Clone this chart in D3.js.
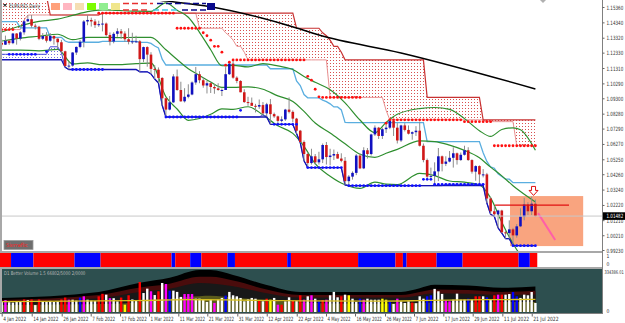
<!DOCTYPE html>
<html><head><meta charset="utf-8">
<script src="https://cdn.jsdelivr.net/npm/d3@7/dist/d3.min.js"></script>
<style>html,body{margin:0;padding:0;background:#fff;overflow:hidden}text{font-family:"DejaVu Sans Condensed","DejaVu Sans",Arial,sans-serif}</style>
</head><body>
<svg id="chart" width="625" height="323"></svg>
<script>
// ================= DATA =================
const opens=[1.1298,1.1286,1.1312,1.1296,1.1360,1.1326,1.1368,1.1441,1.1455,1.1412,
1.1405,1.1325,1.1343,1.1312,1.1344,1.1326,1.1302,1.1242,1.1144,1.1147,
1.1234,1.1271,1.1305,1.1440,1.1450,1.1440,1.1416,1.1422,1.1426,1.1350,
1.1307,1.1358,1.1375,1.1360,1.1322,1.1306,1.1308,1.1308,1.1190,1.1270,
1.1220,1.1125,1.1120,1.1065,1.0930,1.0855,1.0903,1.1075,1.0985,1.0910,
1.0940,1.0955,1.1035,1.1090,1.1050,1.1015,1.1030,1.1005,1.0996,1.0985,
1.0985,1.1090,1.1160,1.1067,1.1045,1.0970,1.0905,1.0900,1.0880,1.0875,
1.0885,1.0830,1.0890,1.0825,1.0810,1.0780,1.0790,1.0855,1.0840,1.0795,
1.0715,1.0640,1.0560,1.0500,1.0545,1.0505,1.0525,1.0620,1.0540,1.0550,
1.0560,1.0530,1.0515,1.0380,1.0410,1.0435,1.0550,1.0465,1.0585,1.0560,
1.0690,1.0735,1.0680,1.0725,1.0735,1.0780,1.0735,1.0650,1.0750,1.0720,
1.0695,1.0705,1.0715,1.0615,1.0520,1.0410,1.0415,1.0445,1.0545,1.0495,
1.0510,1.0535,1.0565,1.0520,1.0555,1.0585,1.0520,1.0443,1.0480,1.0425,
1.0425,1.0265,1.0180,1.0160,1.0185,1.0040,1.0035,1.0060,1.0020,1.0080,
1.0145,1.0225,1.0180,1.0230];
const highs=[1.1322,1.1346,1.1319,1.1364,1.1363,1.1375,1.1449,1.1482,1.1483,1.1425,
1.1411,1.1363,1.1369,1.1363,1.1346,1.1328,1.1318,1.1246,1.1174,1.1236,
1.1274,1.1318,1.1449,1.1483,1.1465,1.1455,1.1445,1.1495,1.1433,1.1367,
1.1369,1.1395,1.1390,1.1375,1.1395,1.1365,1.1345,1.1316,1.1273,1.1275,
1.1236,1.1150,1.1135,1.1070,1.0935,1.0945,1.1090,1.1121,1.1040,1.0997,
1.1023,1.1042,1.1138,1.1110,1.1069,1.1045,1.1040,1.1025,1.1030,1.0995,
1.1137,1.1170,1.1185,1.1076,1.1050,1.0990,1.0940,1.0935,1.0893,1.0922,
1.0905,1.0900,1.0925,1.0835,1.0815,1.0810,1.0860,1.0936,1.0850,1.0800,
1.0720,1.0650,1.0570,1.0595,1.0560,1.0575,1.0630,1.0640,1.0595,1.0590,
1.0575,1.0565,1.0540,1.0420,1.0445,1.0560,1.0565,1.0605,1.0600,1.0695,
1.0750,1.0740,1.0735,1.0765,1.0787,1.0780,1.0765,1.0755,1.0765,1.0750,
1.0710,1.0745,1.0775,1.0630,1.0530,1.0470,1.0505,1.0600,1.0550,1.0545,
1.0580,1.0605,1.0570,1.0570,1.0615,1.0605,1.0525,1.0485,1.0485,1.0460,
1.0435,1.0275,1.0215,1.0190,1.0190,1.0050,1.0120,1.0070,1.0095,1.0200,
1.0270,1.0240,1.0278,1.0258];
const lows=[1.1272,1.1284,1.1285,1.1289,1.1286,1.1314,1.1352,1.1437,1.1399,1.1387,
1.1316,1.1317,1.1300,1.1305,1.1286,1.1264,1.1232,1.1136,1.1121,1.1140,
1.1218,1.1262,1.1268,1.1415,1.1406,1.1397,1.1404,1.1374,1.1340,1.1281,
1.1295,1.1338,1.1324,1.1305,1.1288,1.1290,1.1300,1.1106,1.1170,1.1140,
1.1092,1.1058,1.1032,1.0884,1.0806,1.0850,1.0900,1.0980,1.0907,1.0902,
1.0930,1.0950,1.1020,1.1030,1.1000,1.0962,1.0965,1.0960,1.0980,1.0945,
1.0985,1.1085,1.1060,1.1030,1.0970,1.0900,1.0880,1.0880,1.0836,1.0860,
1.0820,1.0810,1.0757,1.0800,1.0760,1.0770,1.0780,1.0830,1.0770,1.0696,
1.0635,1.0515,1.0470,1.0490,1.0490,1.0490,1.0500,1.0490,1.0485,1.0520,
1.0530,1.0505,1.0355,1.0350,1.0390,1.0420,1.0460,1.0460,1.0530,1.0550,
1.0680,1.0660,1.0660,1.0700,1.0725,1.0680,1.0630,1.0640,1.0710,1.0690,
1.0655,1.0680,1.0610,1.0505,1.0395,1.0395,1.0359,1.0380,1.0445,1.0480,
1.0505,1.0470,1.0490,1.0515,1.0550,1.0515,1.0430,1.0383,1.0365,1.0405,
1.0235,1.0160,1.0145,1.0070,1.0035,0.9998,0.9998,0.9952,1.0005,1.0075,
1.0120,1.0155,1.0155,1.0145];
const closes=[1.1286,1.1312,1.1296,1.1360,1.1326,1.1368,1.1441,1.1455,1.1412,1.1405,
1.1325,1.1343,1.1312,1.1344,1.1326,1.1302,1.1242,1.1144,1.1147,1.1234,
1.1271,1.1305,1.1440,1.1450,1.1440,1.1416,1.1422,1.1426,1.1350,1.1307,
1.1358,1.1375,1.1360,1.1322,1.1306,1.1308,1.1308,1.1190,1.1270,1.1220,
1.1125,1.1120,1.1065,1.0930,1.0855,1.0903,1.1075,1.0985,1.0910,1.0940,
1.0955,1.1035,1.1090,1.1050,1.1015,1.1030,1.1005,1.0996,1.0985,1.0985,
1.1090,1.1160,1.1067,1.1045,1.0970,1.0905,1.0900,1.0880,1.0875,1.0885,
1.0830,1.0890,1.0825,1.0810,1.0780,1.0790,1.0855,1.0840,1.0795,1.0715,
1.0640,1.0560,1.0500,1.0545,1.0505,1.0525,1.0620,1.0540,1.0550,1.0560,
1.0530,1.0515,1.0380,1.0410,1.0435,1.0550,1.0465,1.0585,1.0560,1.0690,
1.0735,1.0680,1.0725,1.0735,1.0780,1.0735,1.0650,1.0750,1.0720,1.0695,
1.0705,1.0715,1.0615,1.0520,1.0410,1.0415,1.0445,1.0545,1.0495,1.0510,
1.0535,1.0565,1.0520,1.0555,1.0585,1.0520,1.0443,1.0480,1.0425,1.0425,
1.0265,1.0180,1.0160,1.0185,1.0040,1.0035,1.0060,1.0020,1.0080,1.0145,
1.0225,1.0180,1.0230,1.0148];

// date labels sit on MetaTrader's pixel grid (positions expressed in bar units)
const dateTickBars=[0,8.04,16.08,23.85,31.7,39.47,47.32,55.09,63.13,71.01,79.05,86.9,94.67,102.71,110.48,118.33,126.2,134.14,142.02];
const dateTickLabels=["4 Jan 2022","14 Jan 2022","26 Jan 2022","7 Feb 2022","17 Feb 2022","1 Mar 2022","11 Mar 2022","21 Mar 2022","31 Mar 2022","12 Apr 2022","22 Apr 2022","4 May 2022","16 May 2022","26 May 2022","7 Jun 2022","17 Jun 2022","29 Jun 2022","11 Jul 2022","21 Jul 2022"];
const priceTicks=[1.15360,1.14340,1.13320,1.12330,1.11310,1.10290,1.09300,1.08280,1.07290,1.06270,1.05250,1.04260,1.03240,1.02220,1.01210,1.00210,0.99230];
const lastPrice=1.01482;

// step channels: [fromBar, toBar, price]
const high52=[[0,4,1.1692],[5,12,1.1610],[13,26,1.1483],[27,78,1.1495],[79,85,1.1395],[86,86,1.1365],[87,87,1.1345],[88,88,1.1316],[89,90,1.1275],[91,91,1.1236],[92,113,1.1185],[114,128,1.0936],[129,143,1.0787]];
const high26=[[0,5,1.1386],[6,6,1.1449],[7,7,1.1482],[8,26,1.1483],[27,52,1.1495],[53,59,1.1395],[60,60,1.1365],[61,61,1.1345],[62,62,1.1316],[63,64,1.1275],[65,65,1.1236],[66,87,1.1185],[88,102,1.0936],[103,103,1.0850],[104,129,1.0787],[130,137,1.0775],[138,143,1.0615]];
const low52=[[0,16,1.1186],[17,17,1.1136],[18,36,1.1121],[37,39,1.1106],[40,40,1.1092],[41,41,1.1058],[42,42,1.1032],[43,43,1.0884],[44,71,1.0806],[72,78,1.0757],[79,79,1.0696],[80,80,1.0635],[81,81,1.0515],[82,91,1.0470],[92,92,1.0355],[93,129,1.0350],[130,130,1.0235],[131,131,1.0160],[132,132,1.0145],[133,133,1.0070],[134,134,1.0035],[135,136,0.9998],[137,143,0.9952]];
const low26=[[0,12,1.1222],[13,15,1.1272],[16,16,1.1232],[17,17,1.1136],[18,36,1.1121],[37,39,1.1106],[40,40,1.1092],[41,41,1.1058],[42,42,1.1032],[43,43,1.0884],[44,69,1.0806],[70,70,1.0820],[71,71,1.0810],[72,78,1.0757],[79,79,1.0696],[80,80,1.0635],[81,81,1.0515],[82,91,1.0470],[92,92,1.0355],[93,118,1.0350],[119,129,1.0359],[130,130,1.0235],[131,131,1.0160],[132,132,1.0145],[133,133,1.0070],[134,134,1.0035],[135,136,0.9998],[137,143,0.9952]];
const mid52=[[0,4,1.1439],[5,12,1.1398],[13,16,1.1335],[17,17,1.1310],[18,26,1.1302],[27,36,1.1308],[37,39,1.1301],[40,40,1.1294],[41,41,1.1277],[42,42,1.1264],[43,43,1.1190],[44,71,1.1151],[72,78,1.1126],[79,79,1.1046],[80,80,1.1015],[81,81,1.0955],[82,85,1.0933],[86,86,1.0918],[87,87,1.0908],[88,88,1.0893],[89,90,1.0873],[91,91,1.0853],[92,92,1.0770],[93,113,1.0768],[114,128,1.0643],[129,129,1.0569],[130,130,1.0511],[131,131,1.0474],[132,132,1.0466],[133,133,1.0429],[134,134,1.0411],[135,136,1.0393],[137,143,1.0370]];
const redDots=[[0,3,1.1386],[26,46,1.1495],[47,53,1.1395],[54,54,1.1365],[55,55,1.1345],[56,56,1.1316],[57,58,1.1275],[59,59,1.1236],[60,60,1.1150],[61,61,1.1170],[62,81,1.1185],[82,82,1.1076],[83,83,1.1050],[84,84,1.0990],[85,85,1.0940],[86,96,1.0936],[103,103,1.0765],[104,123,1.0787],[124,131,1.0775],[132,143,1.0615]];
const blueDots=[[2,9,1.1222],[12,12,1.1240],[19,27,1.1121],[44,63,1.0806],[64,64,1.0850],[73,79,1.0757],[82,91,1.0470],[93,112,1.0350],[113,115,1.0392],[116,129,1.0359],[137,143,0.9952]];

// Bollinger bands: [bar, upper, middle, lower]
const bbPoints=[[0,1.1370,1.1310,1.1250],[5,1.1410,1.1330,1.1250],[10,1.1440,1.1342,1.1245],[15,1.1455,1.1355,1.1255],[19,1.1480,1.1319,1.1158],[23,1.1505,1.1335,1.1165],[27,1.1517,1.1335,1.1153],[31,1.1513,1.1333,1.1153],[36,1.1508,1.1334,1.1160],[40,1.1507,1.1335,1.1163],[44,1.1564,1.1252,1.0940],[47,1.1515,1.1187,1.0859],[50,1.1468,1.1126,1.0784],[53,1.1368,1.1082,1.0796],[56,1.1252,1.1038,1.0824],[59,1.1146,1.1003,1.0860],[62,1.1149,1.1003,1.0857],[66,1.1138,1.1006,1.0874],[70,1.1160,1.0990,1.0820],[74,1.1145,1.0946,1.0747],[78,1.1121,1.0909,1.0697],[81,1.1075,1.0843,1.0611],[84,1.1036,1.0766,1.0496],[88,1.0987,1.0700,1.0413],[92,1.0900,1.0628,1.0356],[96,1.0786,1.0559,1.0332],[100,1.0702,1.0538,1.0374],[103,1.0770,1.0565,1.0360],[106,1.0824,1.0591,1.0357],[112,1.0862,1.0647,1.0432],[116,1.0869,1.0643,1.0417],[120,1.0857,1.0619,1.0381],[124,1.0795,1.0584,1.0373],[128,1.0715,1.0535,1.0355],[131,1.0677,1.0473,1.0269],[134,1.0723,1.0415,1.0107],[137,1.0734,1.0350,0.9966],[139,1.0721,1.0311,0.9901],[143,1.0585,1.0242,0.9899]];
// long moving average (black)
const maLong=[[0,1.1720],[42,1.1582],[56,1.1538],[79,1.1397],[85,1.1350],[107,1.1231],[143,1.0992]];

// sub-window trend strip
const stripSegs=[[0,2,"R"],[3,8,"B"],[9,19,"R"],[20,26,"B"],[27,45,"R"],[46,46,"B"],[47,50,"R"],[51,53,"B"],[54,60,"R"],[61,62,"B"],[63,76,"R"],[77,77,"B"],[78,95,"R"],[96,105,"B"],[106,107,"R"],[108,108,"B"],[109,116,"R"],[117,123,"B"],[124,138,"R"],[139,141,"B"],[142,143,"R"]];

// volume (thousand ticks) and Better-Volume colour per bar
const volumesK=[80,95,78,75,80,85,100,95,100,55,100,85,82,88,80,85,100,115,98,98,
90,115,125,98,90,88,125,145,138,110,110,85,115,58,133,100,95,239,151,186,
165,135,165,231,223,170,170,160,120,143,143,143,106,106,98,80,98,72,98,112,
130,160,133,125,112,85,100,112,106,93,85,106,98,112,58,58,85,117,90,90,
133,98,125,133,106,85,95,98,133,160,117,125,138,133,106,80,106,98,106,98,
98,98,106,98,80,64,106,85,72,85,75,70,125,106,125,133,184,165,144,90,
85,98,146,98,98,106,98,125,125,125,117,98,133,138,138,138,143,159,125,112,
138,133,159,72];
const volColors="WMWWWWRWRWRWWWWWRRMWWBMWWWRRWMWWRYRWWRWWMWRWMBWWWMMMWWWWWMWWBWWWWWWWWRWRYWMRWWRWRMWMWBRMWWWRWYWWBMWWWWYYBWMWWWRWWWBBWWWMMWWWWBWRRWBWRMRWWBBWW".split("");
const volPalette={W:"#ffffff",R:"#ff0000",M:"#ff00ff",B:"#0000ff",Y:"#ffff00",K:"#000000"};
const volBlack=[[0,112],[26,160],[37,232],[45,272],[53,334],[56,334],[62,295],[71,215],[80,159],[107,160],[112,190],[116,216],[125,211],[134,193],[143,204]];
const volMaroon=[[0,95],[26,135],[37,195],[45,225],[53,280],[56,280],[62,250],[71,180],[80,135],[107,135],[112,160],[116,180],[125,175],[134,160],[143,170]];
const volDark=[[0,80],[26,110],[37,160],[45,185],[53,230],[62,205],[71,150],[80,115],[107,115],[116,150],[125,145],[134,135],[143,140]];
const volOlive=[[0,55],[30,65],[40,90],[50,120],[56,130],[62,115],[71,95],[80,75],[95,65],[107,70],[120,75],[143,80]];
const volAvg=[[0,82],[35,90],[50,98],[60,96],[80,88],[100,86],[115,92],[130,98],[143,100]];
const volMaxLabel="334386.01";

// chart objects (bar index, price)
const boxObj={from:136.2,to:155.8,top:1.0281,bottom:0.9949};
const hLineObj={from:132.2,to:152,price:1.0221};
const pinkLineObj=[[143.7,1.0168],[148.3,0.9989]];
const arrowObj={bar:142.5,price:1.0345};
const legendSwatches=["#ffa07a","#ffb6c1","#f5deb3","#7cfc00","#90ee90","#f0e68c"];

// ================= DRAW =================
const svg=d3.select("#chart");
const x=d3.scaleLinear().domain([0,143]).range([1.7,535.4]);
const y=d3.scaleLinear().domain([0.99230,1.15360]).range([250,7]);
const vy=d3.scaleLinear().domain([0,334.38601]).range([312,270]);
const expand=segs=>{const p=[];segs.forEach(([a,b,v])=>{for(let i=a;i<=b;i++)p.push([i,v]);});return p;};
const FS=5.8;
// horizontally squeeze a text so that its real width is chars*perChar
function squeeze(sel,perChar){
  sel.each(function(){
    const t=d3.select(this);
    const n=this.getComputedTextLength();
    const want=this.textContent.length*perChar;
    const sx=Math.min(1,want/n);
    const xx=+t.attr("x")||0, yy=+t.attr("y")||0;
    t.attr("x",0).attr("y",0).attr("transform",`translate(${xx},${yy}) scale(${sx.toFixed(3)},1)`);
  });
}

const defs=svg.append("defs");
defs.append("clipPath").attr("id","mainClip").append("rect").attr("x",2).attr("y",1).attr("width",600).attr("height",250);
defs.append("clipPath").attr("id","volClip").append("rect").attr("x",2).attr("y",269).attr("width",600).attr("height",44);
const pr=defs.append("pattern").attr("id","redHatch").attr("patternUnits","userSpaceOnUse").attr("width",3).attr("height",3);
pr.append("rect").attr("width",1).attr("height",1).attr("fill","#d85050");
const pb=defs.append("pattern").attr("id","blueHatch").attr("patternUnits","userSpaceOnUse").attr("width",3).attr("height",3);
pb.append("rect").attr("width",1).attr("height",1).attr("fill","#7070e0");

svg.append("rect").attr("width",625).attr("height",323).attr("fill","#fff");

// ---------- main panel ----------
const main=svg.append("g").attr("clip-path","url(#mainClip)");
main.append("rect").attr("x",x(boxObj.from)).attr("y",y(boxObj.top)).attr("width",x(boxObj.to)-x(boxObj.from)).attr("height",y(boxObj.bottom)-y(boxObj.top)).attr("fill","#f9a47f");

const h52=expand(high52), h26=expand(high26), l52=expand(low52), l26=expand(low26);
const cloudR=h52.map((d,i)=>[d[0],d[1],h26[i][1]]);
const cloudB=l26.map((d,i)=>[d[0],d[1],l52[i][1]]);
const areaG=d3.area().x(d=>x(d[0])).y0(d=>y(d[2])).y1(d=>y(d[1]));
main.append("path").attr("d",areaG(cloudR)).attr("fill","url(#redHatch)");
main.append("path").attr("d",areaG(cloudB)).attr("fill","url(#blueHatch)");
const lineP=d3.line().x(d=>x(d[0])).y(d=>y(d[1]));
main.append("path").attr("d",lineP(h26)).attr("fill","none").attr("stroke","#e89090").attr("stroke-width",1);
main.append("path").attr("d",lineP(h52)).attr("fill","none").attr("stroke","#c83232").attr("stroke-width",1.2);

const lineC=d3.line().x(d=>x(d[0])).y(d=>y(d[1])).curve(d3.curveMonotoneX);
main.append("path").attr("d",lineC(maLong)).attr("fill","none").attr("stroke","#000").attr("stroke-width",1.5);
main.append("path").attr("d",lineP(expand(mid52))).attr("fill","none").attr("stroke","#5aaee0").attr("stroke-width",1.3);
[1,2,3].forEach(k=>{
  main.append("path").attr("d",d3.line().x(d=>x(d[0])).y(d=>y(d[k])).curve(d3.curveMonotoneX)(bbPoints)).attr("fill","none").attr("stroke","#2f8f2f").attr("stroke-width",1.2);
});
main.append("path").attr("d",lineP(l26)).attr("fill","none").attr("stroke","#4848d8").attr("stroke-width",1);
main.append("path").attr("d",lineP(l52)).attr("fill","none").attr("stroke","#1414b4").attr("stroke-width",1.3);

// candles
const bars=d3.range(closes.length);
const cg=main.append("g");
cg.selectAll("line").data(bars).join("line").attr("x1",i=>x(i)).attr("x2",i=>x(i)).attr("y1",i=>y(highs[i])).attr("y2",i=>y(lows[i])).attr("stroke","#8c8c8c").attr("stroke-width",1);
cg.selectAll("rect").data(bars).join("rect")
  .attr("x",i=>x(i)-1.3).attr("width",2.6)
  .attr("y",i=>y(Math.max(opens[i],closes[i])))
  .attr("height",i=>Math.max(1,Math.abs(y(opens[i])-y(closes[i]))))
  .attr("fill",i=>closes[i]>=opens[i]?"#1010c0":"#d01818");

// dots
main.append("g").selectAll("circle").data(expand(redDots)).join("circle").attr("cx",d=>x(d[0])).attr("cy",d=>y(d[1])).attr("r",1.4).attr("fill","#ff1010");
main.append("g").selectAll("circle").data(expand(blueDots)).join("circle").attr("cx",d=>x(d[0])).attr("cy",d=>y(d[1])).attr("r",1.4).attr("fill","#1010ff");

// objects
main.append("line").attr("x1",x(hLineObj.from)).attr("x2",x(hLineObj.to)).attr("y1",y(hLineObj.price)).attr("y2",y(hLineObj.price)).attr("stroke","#e01010").attr("stroke-width",1.2);
main.append("line").attr("x1",x(pinkLineObj[0][0])).attr("y1",y(pinkLineObj[0][1])).attr("x2",x(pinkLineObj[1][0])).attr("y2",y(pinkLineObj[1][1])).attr("stroke","#ff5fa8").attr("stroke-width",2);
{const ax=x(arrowObj.bar), ay=y(arrowObj.price);
 main.append("path").attr("d",`M${ax-2},${ay} L${ax+2},${ay} L${ax+2},${ay+4} L${ax+4.5},${ay+4} L${ax},${ay+9} L${ax-4.5},${ay+4} L${ax-2},${ay+4} Z`).attr("fill","#fff").attr("stroke","#e01010").attr("stroke-width",1);}
svg.append("line").attr("x1",2).attr("x2",602).attr("y1",y(lastPrice)).attr("y2",y(lastPrice)).attr("stroke","#c8c8c8").attr("stroke-width",1);

// top-left legend
svg.append("path").attr("d","M3,4 L7,4 L5,7 Z").attr("fill","#333");
squeeze(svg.append("text").attr("x",9).attr("y",8).attr("font-size",FS).attr("fill","#444").text("EURUSD,Daily"),2.6);
legendSwatches.forEach((c,i)=>svg.append("rect").attr("x",51+i*12).attr("y",3).attr("width",9).attr("height",7).attr("fill",c));
svg.append("line").attr("x1",123).attr("x2",153).attr("y1",3.5).attr("y2",3.5).attr("stroke","#e83030").attr("stroke-width",1.5).attr("stroke-dasharray","6,3");
svg.append("line").attr("x1",157).attr("x2",206).attr("y1",3.5).attr("y2",3.5).attr("stroke","#0a0a8c").attr("stroke-width",1.5).attr("stroke-dasharray","6,3");
svg.append("line").attr("x1",123).attr("x2",150).attr("y1",10).attr("y2",10).attr("stroke","#e83030").attr("stroke-width",1.5).attr("stroke-dasharray","6,3");
svg.append("line").attr("x1",153).attr("x2",180).attr("y1",10).attr("y2",10).attr("stroke","#40c8e8").attr("stroke-width",1.5).attr("stroke-dasharray","6,3");
svg.append("line").attr("x1",182).attr("x2",206).attr("y1",10).attr("y2",10).attr("stroke","#0a0a8c").attr("stroke-width",1.5).attr("stroke-dasharray","6,3");
svg.append("rect").attr("x",207).attr("y",3).attr("width",8).attr("height",7).attr("fill","#0a0a8c");
svg.append("path").attr("d","M540,0 L546,0 L543,3 Z").attr("fill","#b0b0b0");

// label box
svg.append("rect").attr("x",4).attr("y",240.5).attr("width",29).attr("height",9).attr("fill","#6e6e6e").attr("stroke","#9a9a9a").attr("stroke-width",0.8);
squeeze(svg.append("text").attr("x",6).attr("y",247.3).attr("font-size",5.5).attr("fill","#ff2020").text("Sierraflic"),2.5);

// ---------- separators / frame ----------
svg.append("rect").attr("x",0).attr("y",251).attr("width",602).attr("height",2).attr("fill","#a8a8a8");
svg.append("rect").attr("x",0).attr("y",267).attr("width",602).attr("height",2).attr("fill","#a8a8a8");
svg.append("rect").attr("x",0).attr("y",0).attr("width",2).attr("height",313).attr("fill","#a8a8a8");

// ---------- strip ----------
const stripCol={R:"#ff0000",B:"#0000ff"};
svg.append("g").selectAll("rect").data(stripSegs).join("rect")
  .attr("x",d=>x(d[0]-0.5)).attr("width",d=>x(d[1]+0.5)-x(d[0]-0.5))
  .attr("y",253).attr("height",14).attr("fill",d=>stripCol[d[2]]);

// ---------- volume panel ----------
svg.append("rect").attr("x",2).attr("y",269).attr("width",600).attr("height",44).attr("fill","#2d4f4f");
const vg=svg.append("g").attr("clip-path","url(#volClip)");
const vArea=d3.area().x(d=>x(d[0])).y0(vy(0)).y1(d=>vy(d[1])).curve(d3.curveMonotoneX);
vg.append("path").attr("d",vArea(volBlack)).attr("fill","#000");
vg.append("path").attr("d",vArea(volMaroon)).attr("fill","#4a0c0c");
vg.append("path").attr("d",vArea(volDark)).attr("fill","#181818");
vg.append("path").attr("d",vArea(volOlive)).attr("fill","#5a5a1c");
vg.append("g").selectAll("rect").data(bars).join("rect").attr("x",i=>x(i)-1.2).attr("width",2.4)
  .attr("y",i=>vy(volumesK[i])).attr("height",i=>vy(0)-vy(volumesK[i])).attr("fill",i=>volPalette[volColors[i]]||"#fff");
vg.append("path").attr("d",d3.line().x(d=>x(d[0])).y(d=>vy(d[1])).curve(d3.curveMonotoneX)(volAvg)).attr("fill","none").attr("stroke","#d8c020").attr("stroke-width",1.3);
squeeze(svg.append("text").attr("x",4).attr("y",275).attr("font-size",5).attr("fill","#b8b8b8").text("D1 Better Volume 1.5 66802/5000 2/0000"),2.15);

// ---------- axes ----------
svg.append("line").attr("x1",602.5).attr("x2",602.5).attr("y1",0).attr("y2",313).attr("stroke","#808080");
svg.append("line").attr("x1",0).attr("x2",603).attr("y1",313.5).attr("y2",313.5).attr("stroke","#808080");
const yAx=svg.append("g").attr("transform","translate(602.5,0)").call(d3.axisRight(y).tickValues(priceTicks).tickFormat(d=>d.toFixed(5)).tickSize(2));
yAx.select(".domain").remove();
yAx.selectAll("line").attr("stroke","#666");
yAx.selectAll("text").attr("font-size",FS).attr("font-family",null).attr("fill","#333").attr("x",4).attr("dy",null).attr("y",2);
squeeze(yAx.selectAll("text"),2.4);
svg.append("rect").attr("x",603).attr("y",y(lastPrice)-3.8).attr("width",22).attr("height",7.6).attr("fill","#000");
squeeze(svg.append("text").attr("x",606.5).attr("y",y(lastPrice)+2.1).attr("font-size",FS).attr("fill","#fff").text(lastPrice.toFixed(5)),2.4);
[["1",258],["0",266]].forEach(([t,yy])=>svg.append("text").attr("x",606.5).attr("y",yy).attr("font-size",5).attr("fill","#333").text(t));
squeeze(svg.append("text").attr("x",604.5).attr("y",274).attr("font-size",5).attr("fill","#333").text(volMaxLabel),2.15);
svg.append("text").attr("x",606.5).attr("y",313).attr("font-size",5).attr("fill","#333").text("0");

const xAx=svg.append("g").attr("transform","translate(0,313.5)").call(d3.axisBottom(x).tickValues(dateTickBars).tickFormat((d,i)=>dateTickLabels[i]).tickSize(3));
xAx.select(".domain").remove();
xAx.selectAll("line").attr("stroke","#666");
xAx.selectAll("text").attr("font-size",FS).attr("font-family",null).attr("fill","#333").attr("text-anchor","start").attr("dy",null).attr("x",1).attr("y",7.5);
squeeze(xAx.selectAll("text"),2.3);
</script>
</body></html>
